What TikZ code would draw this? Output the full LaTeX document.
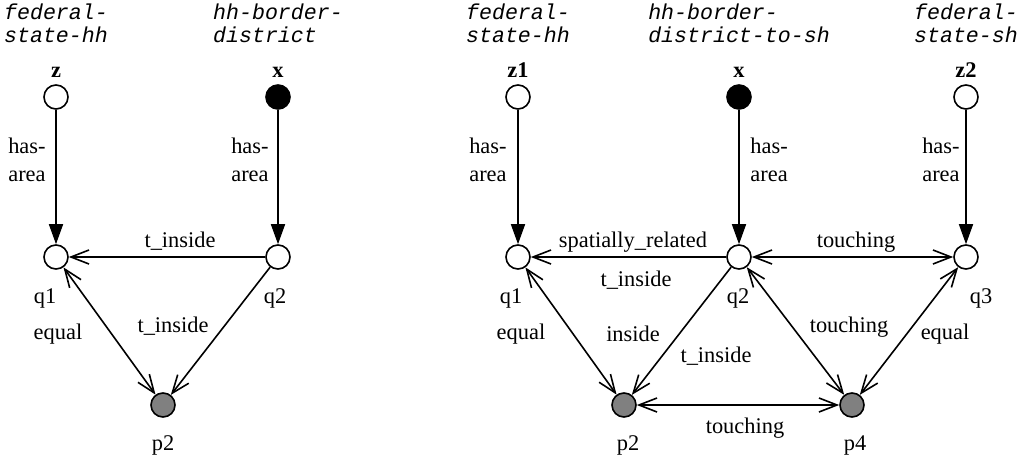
\documentclass[tikz,border=0pt]{standalone}
\usepackage{fontspec}
\setmainfont{Liberation Serif}
\setmonofont{Liberation Mono}
\usetikzlibrary{arrows.meta}
\begin{document}
\begin{tikzpicture}[x=0.5pt,y=-0.5pt,
  vtx/.style={circle,draw,line width=0.8pt,minimum size=12pt,inner sep=0pt},
  wnode/.style={vtx,fill=white},
  bnode/.style={vtx,fill=black},
  gnode/.style={vtx,fill=gray},
  hasarea/.style={-{Triangle[length=10pt,width=7pt]},line width=0.8pt},
  rel/.style={-{Straight Barb[length=9pt,width=7pt]},line width=0.8pt},
  birel/.style={{Straight Barb[length=9pt,width=7pt]}-{Straight Barb[length=9pt,width=7pt]},line width=0.8pt},
  lbl/.style={font=\fontsize{11.2pt}{13.5pt}\selectfont,inner sep=0pt,anchor=base},
  var/.style={font=\fontsize{11.2pt}{13.5pt}\selectfont\bfseries,inner sep=0pt,anchor=base},
  typ/.style={font=\fontsize{10.8pt}{11.5pt}\selectfont\ttfamily\itshape,inner sep=0pt,align=left,anchor=base},
  ha/.style={font=\fontsize{11.2pt}{13.8pt}\selectfont,inner sep=0pt}
]
\useasboundingbox (0,0) rectangle (1024,462);

% ---------------- left diagram ----------------
\node[wnode] (Lz) at (56,97) {};
\node[bnode] (Lx) at (278,97) {};
\node[wnode] (Lq1) at (56,257) {};
\node[wnode] (Lq2) at (278,257) {};
\node[gnode] (Lp2) at (163,405) {};

\node[typ] (Ltz) at (56,42) {federal-\\state-hh};
\node[typ] (Ltx) at (278,42) {hh-border-\\district};
\node[var] (Lvz) at (56,77) {z};
\node[var] (Lvx) at (278,77) {x};

\draw[hasarea] (Lz) -- (Lq1);
\draw[hasarea] (Lx) -- (Lq2);
\draw[rel] (Lq2) -- (Lq1);
\draw[birel] (Lq1) -- (Lp2);
\draw[rel] (Lq2) -- (Lp2);

\node[ha,anchor=east,align=right] (Lha1) at (46,160) {has-\\area};
\node[ha,anchor=east,align=right] (Lha2) at (269,160) {has-\\area};
\node[lbl] (Ll1) at (180,247) {t\_inside};
\node[lbl] (Ll2) at (173,332) {t\_inside};
\node[lbl] (Ll3) at (58,339) {equal};
\node[lbl] (Lnq1) at (45,303) {q1};
\node[lbl] (Lnq2) at (275,303) {q2};
\node[lbl] (Lnp2) at (163,450) {p2};

% ---------------- right diagram ----------------
\node[wnode] (Rz1) at (518,97) {};
\node[bnode] (Rx) at (739,97) {};
\node[wnode] (Rz2) at (966,97) {};
\node[wnode] (Rq1) at (518,257) {};
\node[wnode] (Rq2) at (739,257) {};
\node[wnode] (Rq3) at (966,257) {};
\node[gnode] (Rp2) at (624,405) {};
\node[gnode] (Rp4) at (852,405) {};

\node[typ] (Rtz1) at (518,42) {federal-\\state-hh};
\node[typ] (Rtx) at (739,42) {hh-border-\\district-to-sh};
\node[typ] (Rtz2) at (966,42) {federal-\\state-sh};
\node[var] (Rvz1) at (518,77) {z1};
\node[var] (Rvx) at (739,77) {x};
\node[var] (Rvz2) at (966,77) {z2};

\draw[hasarea] (Rz1) -- (Rq1);
\draw[hasarea] (Rx) -- (Rq2);
\draw[hasarea] (Rz2) -- (Rq3);
\draw[rel] (Rq2) -- (Rq1);
\draw[birel] (Rq2) -- (Rq3);
\draw[birel] (Rq1) -- (Rp2);
\draw[rel] (Rq2) -- (Rp2);
\draw[birel] (Rq2) -- (Rp4);
\draw[birel] (Rq3) -- (Rp4);
\draw[birel] (Rp2) -- (Rp4);

\node[ha,anchor=east,align=right] (Rha1) at (507,160) {has-\\area};
\node[ha,anchor=west,align=left] (Rha2) at (750,160) {has-\\area};
\node[ha,anchor=east,align=right] (Rha3) at (960,160) {has-\\area};
\node[lbl] (Rl1) at (633,247) {spatially\_related};
\node[lbl] (Rl2) at (636,286) {t\_inside};
\node[lbl] (Rl3) at (856,247) {touching};
\node[lbl] (Rl4) at (521,339) {equal};
\node[lbl] (Rl5) at (633,341) {inside};
\node[lbl] (Rl6) at (716,362) {t\_inside};
\node[lbl] (Rl7) at (849,332) {touching};
\node[lbl] (Rl8) at (945,339) {equal};
\node[lbl] (Rl9) at (745,433) {touching};
\node[lbl] (Rnq1) at (511,303) {q1};
\node[lbl] (Rnq2) at (738,303) {q2};
\node[lbl] (Rnq3) at (981,303) {q3};
\node[lbl] (Rnp2) at (628,450) {p2};
\node[lbl] (Rnp4) at (855,450) {p4};
\end{tikzpicture}
\end{document}
